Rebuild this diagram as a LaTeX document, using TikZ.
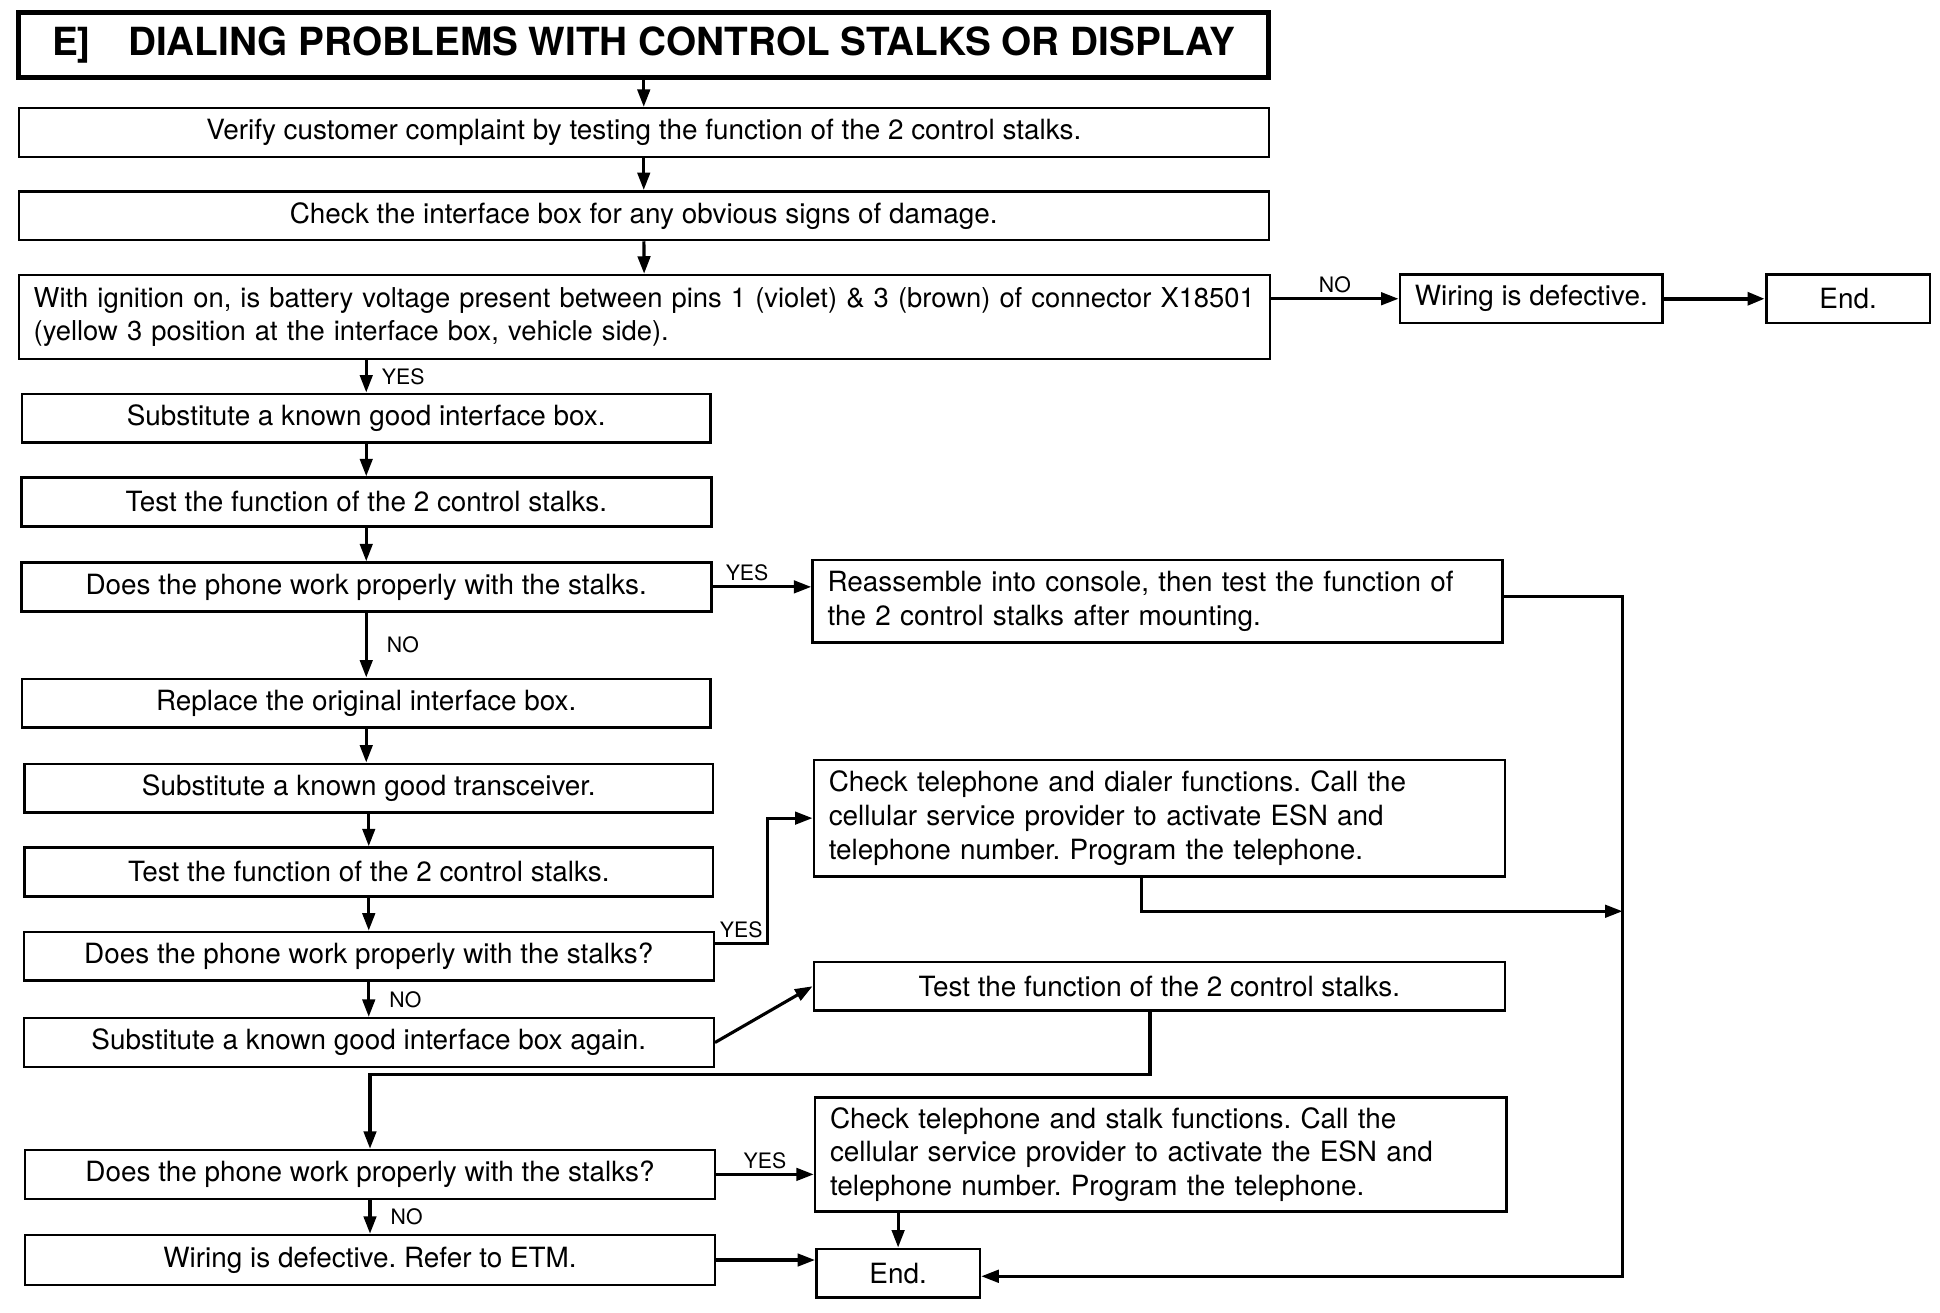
\documentclass[tikz,border=0pt]{standalone}
\usepackage{fontspec}
\setmainfont{TeX Gyre Heros}
\usetikzlibrary{arrows.meta}
\frenchspacing

\tikzset{
  link/.style={line width=2.5pt},
  tag/.style={font=\fontsize{17}{20}\selectfont},
  note/.style={align=left,text width=#1}
}

\begin{document}
\begin{tikzpicture}[x=1pt,y=-1pt,>={Triangle[length=14pt,width=10pt]}]

      \useasboundingbox (0,0) rectangle (1552,1049.6);

      \begin{scope}[every node/.style={draw,line width=2pt,inner xsep=12pt,inner ysep=0pt,
          minimum height=39pt,font=\fontsize{22.3}{27}\selectfont}]
        \node[line width=4pt,minimum width=1000pt,minimum height=52pt,
          font=\fontsize{31}{36}\selectfont\bfseries] (0) at (515,36)
          {E]\hspace{30pt}DIALING PROBLEMS WITH CONTROL STALKS OR DISPLAY};
        \node[minimum width=1000pt] (1)  at (515,106)   {Verify customer complaint by testing the function of the 2 control stalks.};
        \node[minimum width=1000pt] (2)  at (515,172.5) {Check the interface box for any obvious signs of damage.};
        \node[minimum height=67pt,note=977pt,font=\fontsize{21.9}{27}\selectfont] (3) at (515.5,253.5)
          {\mbox{With ignition on, is battery voltage present between pins 1 (violet) \& 3 (brown) of connector X18501}\\
           (yellow 3 position at the interface box, vehicle side).};
        \node[minimum width=210pt] (4)  at (1225,239)   {Wiring is defective.};
        \node[minimum width=131pt] (5)  at (1478.5,239) {End.};
        \node[minimum width=551pt] (6)  at (293,334.5)  {Substitute a known good interface box.};
        \node[minimum width=552pt] (7)  at (293,401.5)  {Test the function of the 2 control stalks.};
        \node[minimum width=552pt] (8)  at (293,469.5)  {Does the phone work properly with the stalks.};
        \node[minimum height=66pt,note=528pt] (9) at (926,481)
          {Reassemble into console, then test the function of\\
           the 2 control stalks after mounting.};
        \node[minimum width=551pt] (10) at (293,562.5)  {Replace the original interface box.};
        \node[minimum width=551pt] (11) at (295,630.5)  {Substitute a known good transceiver.};
        \node[minimum width=551pt] (12) at (295,697.5)  {Test the function of the 2 control stalks.};
        \node[minimum width=552pt] (13) at (295,765)    {Does the phone work properly with the stalks?};
        \node[minimum height=93pt,note=529pt] (14) at (927.5,654.5)
          {Check telephone and dialer functions. Call the\\
           cellular service provider to activate ESN and\\
           telephone number. Program the telephone.};
        \node[minimum width=552pt] (15) at (295,834)    {Substitute a known good interface box again.};
        \node[minimum width=553pt] (16) at (927.5,789)  {Test the function of the 2 control stalks.};
        \node[minimum width=552pt] (17) at (296,939.5)  {Does the phone work properly with the stalks?};
        \node[minimum height=91pt,note=529pt] (18) at (928.5,923.5)
          {Check telephone and stalk functions. Call the\\
           cellular service provider to activate the ESN and\\
           telephone number. Program the telephone.};
        \node[minimum width=552pt,minimum height=40pt] (19) at (296,1008) {Wiring is defective. Refer to ETM.};
        \node[minimum width=131pt] (20) at (718.5,1018.5) {End.};
      \end{scope}

      \coordinate (c1) at (1298,477);
      \coordinate (c2) at (1298,1021);

      \begin{scope}[every node/.style={tag}]

        \begin{scope}[every edge/.style={draw,link,->}]
          \path (0)  edge (1);
          \path (1)  edge (2);
          \path (2)  edge (3);
          \path (3.east |- 4) edge node[above] {NO} (4);
          \path (4)  edge[line width=3.5pt] (5);
          \path (3.south -| 6) edge node[right=8pt] {YES} (6);
          \path (6)  edge (7);
          \path (7)  edge (8);
          \path (8)  edge node[above,pos=.35] {YES} (8 -| 9.west);
          \path (8)  edge node[right=12pt] {NO} (10);
          \path (10) edge (10 |- 11.north);
          \path (11) edge (12);
          \path (12) edge (13);
          \path (13) edge node[right=12pt] {NO} (15);
          \path (15.east) edge (16.west);
          \path (17.east) edge node[above] {YES} (17.east -| 18.west);
          \path (17) edge node[right=12pt] {NO} (19);
          \path (18.south -| 20) edge (20);
          \path (19.east) edge (19.east -| 20.west);
        \end{scope}

        \draw[link,->] ([yshift=10pt]13.east) -- node[above] {YES} ++(42,0) |- (14);
        \draw[link,->] ([xshift=-7.5pt]16.south) -- ++(0,50) -| (17);
        \draw[link,->] ([xshift=-14.5pt]14.south) -- ++(0,27) coordinate (t) -- (t -| c1);
        \draw[link,->] (9.east |- c1) -- (c1) -- (c2) -- (c2 -| 20.east);
      \end{scope}

    \end{tikzpicture}
\end{document}
